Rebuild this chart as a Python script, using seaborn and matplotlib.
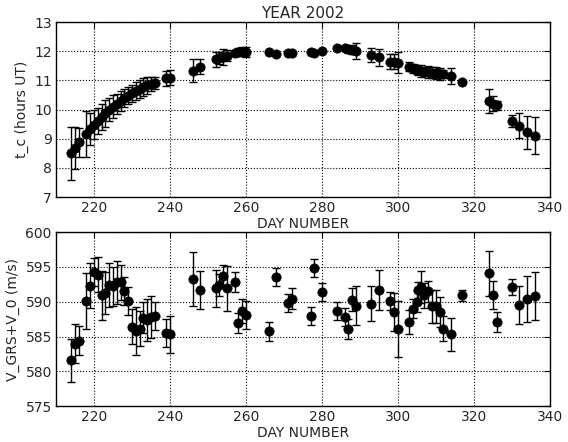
import matplotlib
matplotlib.use("Agg")
import matplotlib.pyplot as plt
import seaborn as sns
import pandas as pd

days = [214, 215, 216, 218, 219, 220, 221, 222, 223, 224, 225, 226, 227, 228, 229,
        230, 231, 232, 233, 234, 235, 236, 239, 240, 246, 248, 252, 253, 254, 255,
        257, 258, 259, 260, 266, 268, 271, 272, 277, 278, 280, 284, 286, 287, 288,
        289, 293, 295, 298, 299, 300, 303, 304, 305, 305.4, 306, 307, 308, 309, 310,
        311, 312, 314, 317, 324, 325, 326, 330, 332, 334, 336]

tc = [8.50, 8.67, 8.88, 9.17, 9.33, 9.48, 9.61, 9.74, 9.87, 10.00, 10.10, 10.20, 10.30,
      10.40, 10.48, 10.56, 10.63, 10.70, 10.77, 10.83, 10.88, 10.92, 11.07, 11.10, 11.33,
      11.47, 11.72, 11.76, 11.80, 11.85, 11.95, 11.98, 11.98, 11.97, 11.98, 11.90, 11.93,
      11.93, 11.98, 11.93, 12.02, 12.10, 12.10, 12.07, 12.05, 12.02, 11.87, 11.79, 11.64,
      11.64, 11.61, 11.47, 11.42, 11.38, 11.35, 11.32, 11.30, 11.28, 11.27, 11.25, 11.23,
      11.22, 11.16, 10.93, 10.29, 10.20, 10.15, 9.61, 9.44, 9.22, 9.11]

tc_err = [0.92, 0.72, 0.50, 0.78, 0.55, 0.50, 0.45, 0.45, 0.45, 0.40, 0.40, 0.35, 0.35,
          0.30, 0.30, 0.30, 0.30, 0.30, 0.30, 0.30, 0.25, 0.20, 0.25, 0.25, 0.40,
          0.25, 0.25, 0.20, 0.28, 0.20, 0.10, 0.12, 0.15, 0.17, 0.03, 0.03, 0.03,
          0.03, 0.03, 0.03, 0.03, 0.03, 0.05, 0.12, 0.15, 0.27, 0.25, 0.29, 0.25,
          0.25, 0.37, 0.15, 0.15, 0.15, 0.15, 0.20, 0.15, 0.20, 0.20, 0.20, 0.20,
          0.15, 0.27, 0.03, 0.40, 0.25, 0.15, 0.20, 0.43, 0.57, 0.63]

vel = [581.6, 584.0, 584.4, 590.1, 592.3, 594.3, 593.9, 590.9, 591.3, 592.4, 592.2, 592.8,
       592.8, 591.5, 590.1, 586.4, 585.8, 586.1, 587.7, 587.4, 587.8, 587.95, 585.5, 585.3,
       593.3, 591.7, 591.9, 592.4, 593.7, 591.9, 592.8, 586.95, 588.7, 588.15, 585.75,
       593.5, 589.8, 590.45, 587.95, 594.8, 591.4, 588.7, 587.8, 586.1, 590.3, 589.4,
       589.7, 591.7, 590.05, 588.5, 586.1, 587.1, 589.0, 590.0, 591.7, 592.1, 590.9,
       591.5, 589.35, 589.35, 588.5, 586.1, 585.3, 590.9, 594.05, 591.0, 587.1, 592.1,
       589.5, 590.45, 590.8]

vel_err = [3.1, 2.8, 2.1, 4.0, 3.2, 2.0, 2.5, 3.5, 3.0, 3.2, 2.8, 3.1, 2.5, 2.0, 2.0,
           2.5, 3.4, 2.5, 2.2, 3.0, 3.0, 2.0, 2.0, 2.6, 3.9, 2.7, 2.7, 1.6, 1.5, 3.2,
           1.4, 1.4, 1.7, 2.0, 1.4, 1.3, 1.3, 1.5, 1.3, 1.3, 1.35, 1.3, 1.3, 1.4, 1.7,
           2.8, 2.5, 2.9, 1.3, 2.7, 4.0, 1.7, 1.4, 1.5, 1.2, 2.3, 1.8, 1.5, 2.4, 2.4,
           2.2, 1.8, 2.4, 0.85, 3.2, 2.0, 1.4, 1.1, 2.7, 3.3, 3.45]

x_ticks = [220, 240, 260, 280, 300, 320, 340]
tc_ticks = [7, 8, 9, 10, 11, 12, 13]
vel_ticks = [575, 580, 585, 590, 595, 600]

df = pd.DataFrame({"day": days, "tc": tc, "tc_err": tc_err, "vel": vel, "vel_err": vel_err})

sns.set_style("white")
plt.rcParams["font.family"] = ["DejaVu Sans"]
plt.rcParams["xtick.direction"] = "in"
plt.rcParams["ytick.direction"] = "in"

fig = plt.figure(figsize=(5.68, 4.42), dpi=100)
ax1 = fig.add_axes([0.0986, 0.554, 0.8694, 0.396])
ax2 = fig.add_axes([0.0986, 0.081, 0.8694, 0.394])

panels = [
    (ax1, "tc", "tc_err", "t_c (hours UT)", (7, 13), tc_ticks),
    (ax2, "vel", "vel_err", "V_GRS+V_0 (m/s)", (575, 600), vel_ticks),
]
for ax, col, ecol, ylab, ylim, yt in panels:
    ax.errorbar(df["day"], df[col], yerr=df[ecol], fmt="none", ecolor="black",
                elinewidth=1.0, capsize=3, capthick=1.0, zorder=2)
    sns.scatterplot(data=df, x="day", y=col, ax=ax, color="black", s=45,
                    edgecolor="black", linewidth=0.5, zorder=3, legend=False)
    ax.set_xlim(210, 340)
    ax.set_ylim(*ylim)
    ax.set_xticks(x_ticks)
    ax.set_yticks(yt)
    ax.grid(True, color="black", linestyle=":", linewidth=0.8)
    ax.set_xlabel("DAY NUMBER", fontsize=10, labelpad=1)
    ax.set_ylabel(ylab, fontsize=10)
    ax.tick_params(axis="both", labelsize=10, top=True, right=True, length=4,
                   width=0.8, color="black", pad=3)
    for s in ax.spines.values():
        s.set_color("black")
        s.set_linewidth(1.0)
        s.set_visible(True)

ax1.set_title("YEAR 2002", fontsize=11, pad=3)

fig.savefig("out.png", dpi=100)
